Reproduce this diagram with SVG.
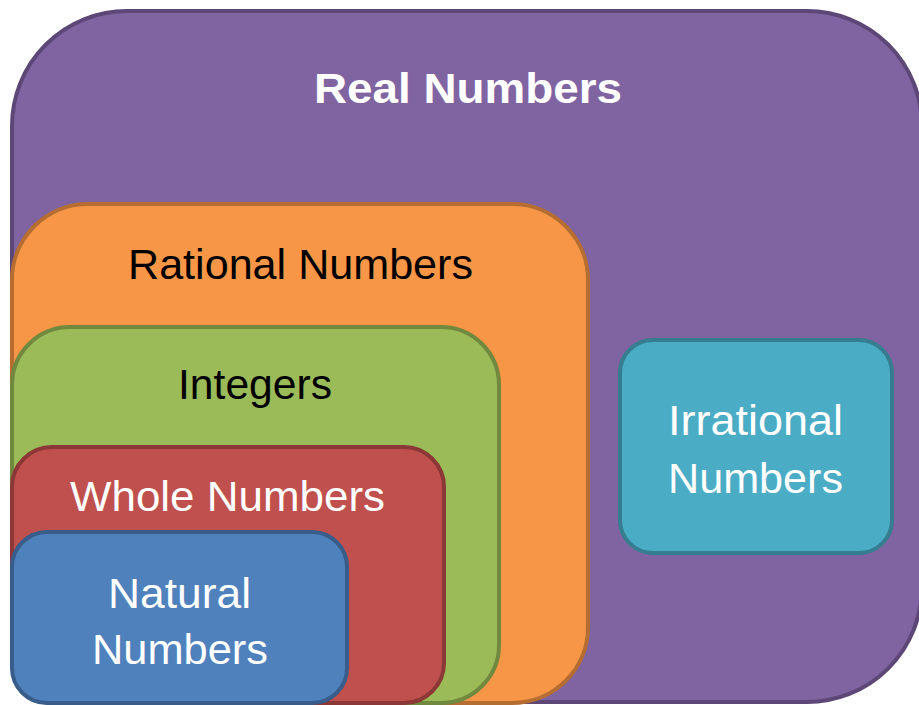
<svg xmlns="http://www.w3.org/2000/svg" width="919" height="705" viewBox="0 0 919 705">
<style>
.box{stroke-width:4}
.t{font-family:"Liberation Sans",Arial,sans-serif;font-size:42px;text-anchor:middle}
.w{fill:#ffffff}
.k{fill:#000000}
</style>
<rect width="919" height="705" fill="#ffffff"/>
<g id="real">
<rect class="box" x="12" y="11" width="910" height="691" rx="115" ry="115" fill="#8064A2" stroke="#5C4776"/>
<text class="t w" x="468" y="103" font-weight="bold" font-size="45" textLength="308" lengthAdjust="spacingAndGlyphs">Real Numbers</text>
</g>
<g id="rational">
<rect class="box" x="12" y="204" width="576" height="499" rx="76" ry="76" fill="#F79646" stroke="#B66D31"/>
<text class="t k" x="300.5" y="279" textLength="345" lengthAdjust="spacingAndGlyphs">Rational Numbers</text>
</g>
<g id="integers">
<rect class="box" x="12" y="327" width="487" height="376" rx="58" ry="58" fill="#9BBB59" stroke="#71893F"/>
<text class="t k" x="255" y="399" textLength="154" lengthAdjust="spacingAndGlyphs">Integers</text>
</g>
<g id="whole">
<rect class="box" x="12" y="447" width="432" height="256" rx="40" ry="40" fill="#C0504D" stroke="#8C3836"/>
<text class="t w" x="227.5" y="511" textLength="315" lengthAdjust="spacingAndGlyphs">Whole Numbers</text>
</g>
<g id="natural">
<rect class="box" x="12" y="532" width="335" height="171" rx="35" ry="35" fill="#4F81BD" stroke="#385D8A"/>
<text class="t w" x="179.5" y="608" textLength="143" lengthAdjust="spacingAndGlyphs">Natural</text>
<text class="t w" x="180" y="664" textLength="176" lengthAdjust="spacingAndGlyphs">Numbers</text>
</g>
<g id="irrational">
<rect class="box" x="620" y="340" width="272" height="213" rx="33" ry="33" fill="#4BACC6" stroke="#357D91"/>
<text class="t w" x="755.5" y="435" textLength="175" lengthAdjust="spacingAndGlyphs">Irrational</text>
<text class="t w" x="755.5" y="493" textLength="175" lengthAdjust="spacingAndGlyphs">Numbers</text>
</g>
<g id="connectors"></g>
</svg>
